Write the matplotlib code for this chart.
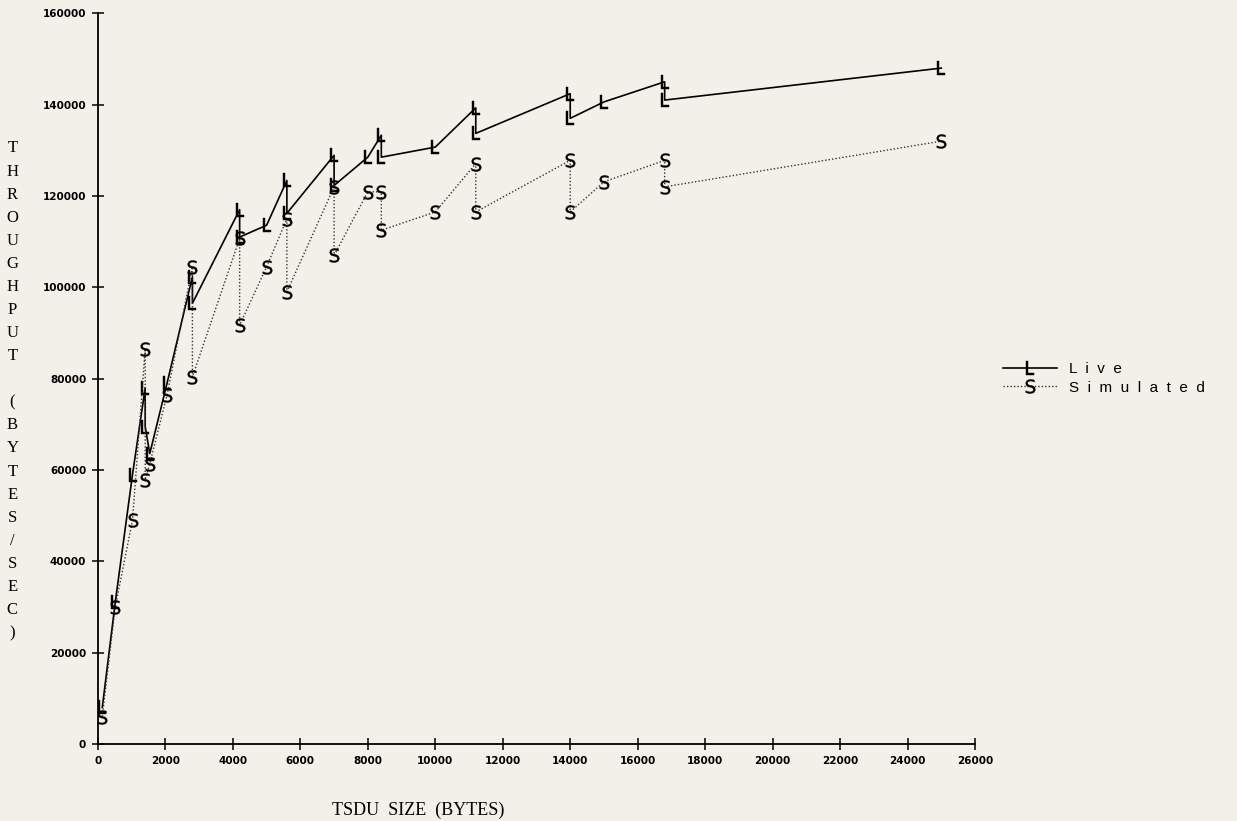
import numpy as np
import matplotlib.pyplot as plt

# TSDU size (bytes) and throughput (bytes/sec)
live_x = [128, 512, 1024, 1400, 1400, 1536, 2048, 2800, 2800, 4200, 4200, 5000,
          5600, 5600, 7000, 7000, 8000, 8400, 8400, 10000, 11200, 11200,
          14000, 14000, 15000, 16800, 16800, 25000]
live_y = [8000, 31000, 59000, 78000, 69500, 63600, 79000, 102300, 96500, 117000, 111000, 113600,
          123400, 116200, 128900, 122300, 128500, 133300, 128500, 130700, 139300, 133700,
          142400, 137000, 140600, 145000, 141000, 148000]

sim_x = [128, 512, 1024, 1400, 1400, 1536, 2048, 2800, 2800, 4200, 4200, 5000,
         5600, 5600, 7000, 7000, 8000, 8400, 8400, 10000, 11200, 11200,
         14000, 14000, 15000, 16800, 16800, 25000]
sim_y = [6000, 30000, 49000, 86600, 57800, 61400, 76400, 104500, 80400, 110700, 91700, 104500,
         115000, 99000, 122000, 107000, 120900, 120900, 112500, 116500, 127100, 116500,
         127800, 116500, 123100, 127800, 122000, 132000]

x_ticks = np.arange(0, 26001, 2000)
y_ticks = np.arange(0, 160001, 20000)

bg = '#f2f0e9'

fig = plt.figure(figsize=(12.37, 8.21), dpi=100, facecolor=bg)
ax = fig.add_axes([0.0792, 0.0938, 0.709, 0.890])
ax.set_facecolor(bg)

ax.plot(live_x, live_y, '-', color='black', linewidth=1.2,
        marker='$\\mathrm{L}$', markersize=10, markerfacecolor='black',
        markeredgecolor='black', markeredgewidth=0.3, label='L  i  v  e')
ax.plot(sim_x, sim_y, linestyle=(0, (1, 1.5)), color='#333333', linewidth=1.0,
        marker='$\\mathrm{S}$', markersize=10, markerfacecolor='black',
        markeredgecolor='black', markeredgewidth=0.3, label='S  i  m  u  l  a  t  e  d')

ax.set_xlim(0, 26000)
ax.set_ylim(0, 160000)
ax.spines['top'].set_visible(False)
ax.spines['right'].set_visible(False)
ax.spines['left'].set_linewidth(1.3)
ax.spines['bottom'].set_linewidth(1.3)

ax.set_xticks(x_ticks)
ax.set_yticks(y_ticks)
ax.set_xticklabels([str(v) for v in x_ticks], fontsize=7.5, fontweight='bold')
ax.set_yticklabels([str(v) for v in y_ticks], fontsize=7.5, fontweight='bold')
ax.tick_params(direction='inout', length=9, width=1.1, pad=4)

ylab = 'THROUGHPUT (BYTES/SEC)'
fig.text(0.010, 0.524, '\n'.join(ylab), fontsize=12, family='Liberation Serif',
         ha='center', va='center', linespacing=1.59)
fig.text(0.338, 0.002, 'TSDU  SIZE  (BYTES)', fontsize=13, family='Liberation Serif',
         ha='center', va='bottom')

leg = ax.legend(loc='center left', bbox_to_anchor=(0.800, 0.539),
                bbox_transform=fig.transFigure, frameon=False, numpoints=1,
                handlelength=3.5, handletextpad=0.8, labelspacing=0.3,
                prop={'family': 'Liberation Sans', 'size': 11})

fig.savefig('out.png', dpi=100, facecolor=bg)
